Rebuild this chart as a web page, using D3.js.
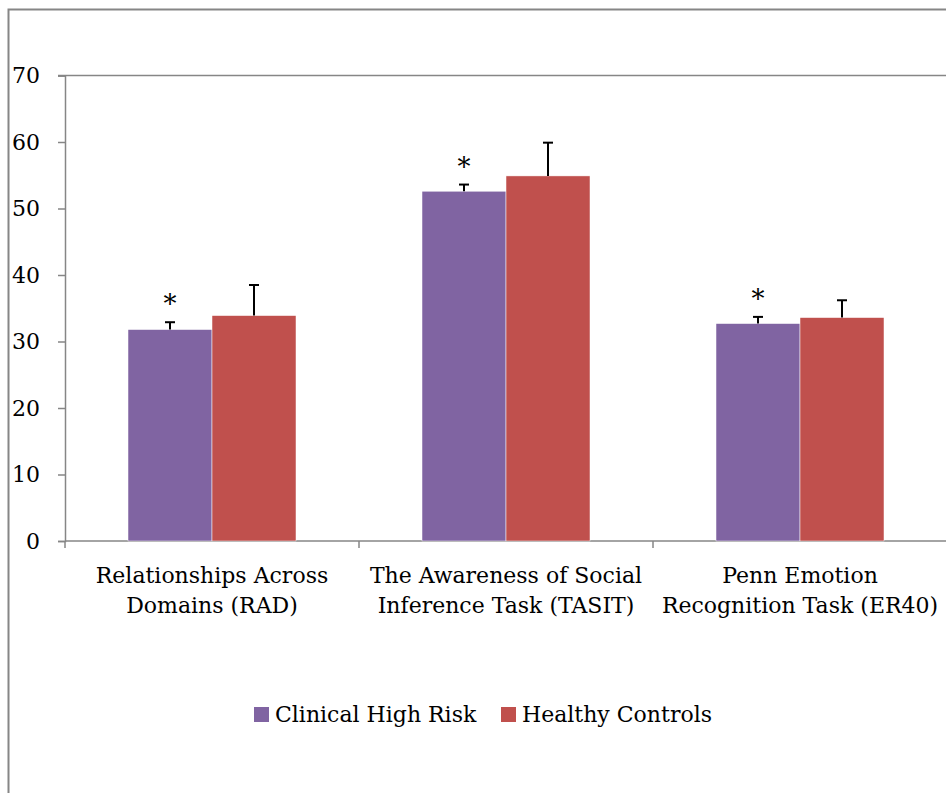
<!DOCTYPE html>
<html><head><meta charset="utf-8">
<script src="https://cdn.jsdelivr.net/npm/d3@7"></script>
<style>body{margin:0;background:#fff}</style>
</head><body>
<script>
const categories = [["Relationships Across","Domains (RAD)"],["The Awareness of Social","Inference Task (TASIT)"],["Penn Emotion","Recognition Task (ER40)"]];
const series = ["Clinical High Risk","Healthy Controls"];
const chrValues = [31.8, 52.6, 32.7];
const chrErrors = [1.1, 1.0, 1.0];
const hcValues = [33.9, 54.9, 33.6];
const hcErrors = [4.6, 5.0, 2.6];
const significant = [true, true, true];
const yTicks = [0,10,20,30,40,50,60,70];
const colors = ["#8064A2","#C0504D"];

const W = 946, H = 793;
const font = "'DejaVu Serif', serif";
const fs = 22;
const svg = d3.select("body").append("svg").attr("width", W).attr("height", H);

// outer frame
svg.append("path").attr("d", `M8.5,${H} V9.5 H${W}`).attr("fill","none").attr("stroke","#868686").attr("stroke-width",2);

const y = d3.scaleLinear().domain([0,70]).range([541,75.5]);
const x0 = d3.scaleBand().domain(d3.range(categories.length)).range([65,947]).paddingInner(0).paddingOuter(0);
const x1 = d3.scaleBand().domain(d3.range(series.length)).range([0, x0.bandwidth()]).paddingOuter(0.75).paddingInner(0);

// top border line of plot
svg.append("line").attr("x1",58).attr("x2",W).attr("y1",y(70)).attr("y2",y(70)).attr("stroke","#868686").attr("stroke-width",1.5);

// y axis
const yAxis = svg.append("g").attr("transform","translate(65,0)")
  .call(d3.axisLeft(y).tickValues(yTicks).tickSize(7).tickPadding(18).tickFormat(d3.format("d")));
yAxis.select(".domain").attr("stroke","#868686").attr("stroke-width",1.5);
yAxis.selectAll(".tick line").attr("stroke","#868686").attr("stroke-width",1.5);
yAxis.selectAll("text").attr("font-family",font).attr("font-size",fs).attr("fill","#000");

// x axis
const xAxisG = svg.append("g").attr("transform",`translate(0,${y(0)})`);
xAxisG.append("line").attr("x1",65).attr("x2",W).attr("stroke","#868686").attr("stroke-width",1.5);
const bounds = d3.range(categories.length+1).map(i => 65 + i*x0.bandwidth());
xAxisG.selectAll(".xt").data(bounds).join("line").attr("x1",d=>d).attr("x2",d=>d).attr("y1",0).attr("y2",7).attr("stroke","#868686").attr("stroke-width",1.5);
xAxisG.selectAll(".xl").data(categories).join("text")
  .attr("x",(d,i)=>x0(i)+x0.bandwidth()/2).attr("y",42)
  .attr("text-anchor","middle").attr("font-family",font).attr("font-size",fs).attr("fill","#000")
  .each(function(d){
    const t = d3.select(this);
    d.forEach((line,k)=>t.append("tspan").attr("x",t.attr("x")).attr("dy",k?30:0).text(line));
  });

const data = [chrValues.map((v,i)=>({s:0,c:i,v,e:chrErrors[i]})), hcValues.map((v,i)=>({s:1,c:i,v,e:hcErrors[i]}))].flat();

const bars = svg.append("g");
bars.selectAll("rect").data(data).join("rect")
  .attr("x",d=>x0(d.c)+x1(d.s)).attr("width",x1.bandwidth())
  .attr("y",d=>y(d.v)).attr("height",d=>y(0)-y(d.v))
  .attr("fill",d=>colors[d.s]).attr("stroke","#fff").attr("stroke-width",0.5);

const err = svg.append("g").attr("stroke","#000").attr("stroke-width",2);
data.forEach(d=>{
  const cx = x0(d.c)+x1(d.s)+x1.bandwidth()/2;
  err.append("line").attr("x1",cx).attr("x2",cx).attr("y1",y(d.v)).attr("y2",y(d.v+d.e));
  err.append("line").attr("x1",cx-5).attr("x2",cx+5).attr("y1",y(d.v+d.e)).attr("y2",y(d.v+d.e));
});

// significance stars
svg.selectAll(".star").data(chrValues).join("text")
  .attr("x",(d,i)=>x0(i)+x1(0)+x1.bandwidth()/2)
  .attr("y",(d,i)=>y(d+chrErrors[i])-9)
  .attr("text-anchor","middle").attr("font-family",font).attr("font-size",26).attr("fill","#000")
  .text((d,i)=>significant[i]?"*":"");

// legend
const leg = svg.append("g");
const legItems = [{x:254,label:series[0]},{x:501,label:series[1]}];
legItems.forEach((it,i)=>{
  leg.append("rect").attr("x",it.x).attr("y",707).attr("width",15).attr("height",15).attr("fill",colors[i]);
  leg.append("text").attr("x",it.x+21).attr("y",722).attr("font-family",font).attr("font-size",fs).attr("fill","#000").text(it.label);
});
</script>
</body></html>
